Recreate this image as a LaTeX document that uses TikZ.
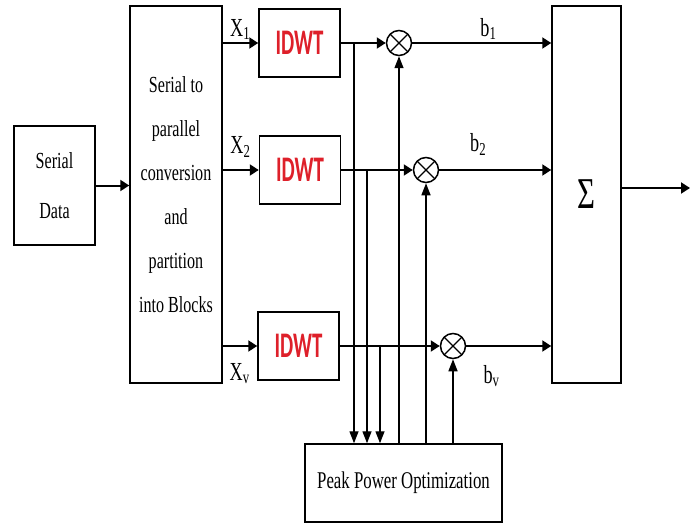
\documentclass[tikz,border=0pt]{standalone}
\usepackage{fontspec}
\usepackage{xcolor}
\usetikzlibrary{arrows.meta,positioning,calc}
\newfontfamily\blockfont{Liberation Serif}[FakeStretch=0.7]
\newfontfamily\idwtfont{Carlito}[FakeStretch=0.58]
\definecolor{idwtred}{RGB}{222,32,42}

\begin{document}
\begin{tikzpicture}[x=0.5pt,y=-0.5pt,
  blk/.style={draw,line width=0.75pt,inner sep=0pt,align=center,font=\blockfont},
  idwt/.style={blk,minimum width=40.5pt,minimum height=34pt,text=idwtred,font=\idwtfont\bfseries\fontsize{18}{18}\selectfont},
  mult/.style={draw,circle,line width=0.75pt,minimum size=12.5pt,inner sep=0pt,
    path picture={\draw[line width=0.6pt] (path picture bounding box.north west) -- (path picture bounding box.south east)
      (path picture bounding box.north east) -- (path picture bounding box.south west);}},
  sig/.style={->,line width=1pt,>={Triangle[length=4.5pt,width=5.5pt]}},
  vsig/.style={->,line width=0.7pt,>={Triangle[length=6pt,width=4.5pt]}},
  lab/.style={font=\blockfont\fontsize{13}{13}\selectfont,inner sep=1pt}]
\useasboundingbox (0,0) rectangle (696,524);
% blocks
\node[blk,minimum width=40.5pt,minimum height=59.5pt,font=\blockfont\fontsize{11.5}{25}\selectfont] (serial) at (54.5,185.5) {Serial\\Data};
\node[blk,minimum width=46pt,minimum height=188.5pt,font=\blockfont\fontsize{11.5}{22}\selectfont] (s2p) at (176,194.5)
  {Serial to\\parallel\\conversion\\and\\partition\\into Blocks};
\node[idwt] (idwt1) at (299.5,43) {IDWT};
\node[idwt] (idwt2) at (300,170) {IDWT};
\node[idwt] (idwt3) at (298.5,346) {IDWT};
\node[mult] (mul1) at (399,43) {};
\node[mult] (mul2) at (426,170) {};
\node[mult] (mul3) at (453,346) {};
\node[blk,minimum width=34.5pt,minimum height=188.5pt,font=\blockfont\fontsize{22}{22}\selectfont] (sum) at (586.5,194.5) {\raisebox{-5pt}{Σ}};
\node[blk,minimum width=98.5pt,minimum height=39pt,font=\blockfont\fontsize{12}{12}\selectfont] (ppo) at (403.5,483) {Peak Power Optimization};
% tap points and output end
\coordinate (t1) at (354,43);
\coordinate (t2) at (367,170);
\coordinate (t3) at (380,346);
\coordinate (out) at (690,188);
% main signal path
\draw[sig] (serial.east) -- (serial.east -| s2p.west);
\draw[sig] (s2p.east |- idwt1) -- node[lab,above] {X\textsubscript{1}} (idwt1.west);
\draw[sig] (s2p.east |- idwt2) -- node[lab,above=5pt] {X\textsubscript{2}} (idwt2.west);
\draw[sig] (s2p.east |- idwt3) -- node[lab,below=7pt] {X\textsubscript{v}} (idwt3.west);
\foreach \i in {1,2,3}{
  \draw[sig] (idwt\i.east) -- (mul\i.west);
}
\draw[sig] (mul1.east) -- node[lab,above,pos=0.55] {b\textsubscript{1}} (sum.west |- mul1);
\draw[sig] (mul2.east) -- node[lab,above=6pt,pos=0.35] {b\textsubscript{2}} (sum.west |- mul2);
\draw[sig] (mul3.east) -- node[lab,below=8pt,pos=0.3] {b\textsubscript{v}} (sum.west |- mul3);
\draw[sig] (sum.east |- out) -- (out);
% optimizer feeds
\foreach \t in {t1,t2,t3}{
  \draw[vsig] (\t) -- (\t |- ppo.north);
}
\foreach \m in {mul1,mul2,mul3}{
  \draw[vsig] (\m.south |- ppo.north) -- (\m.south);
}
\end{tikzpicture}
\end{document}
